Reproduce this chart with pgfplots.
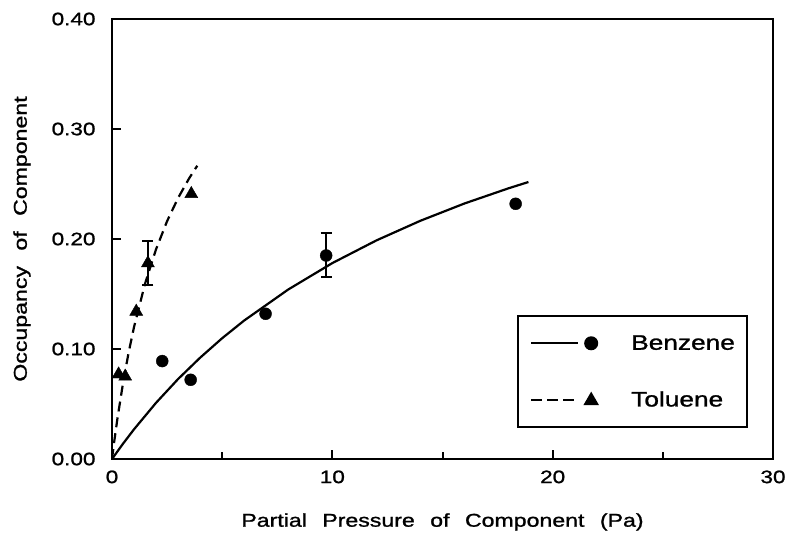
\documentclass[border=0pt]{standalone}
\usepackage{pgfplots}
\pgfplotsset{compat=1.18}
\usepackage{fontspec}
\setmainfont[FakeStretch=1.25, FakeBold=1.2, WordSpace=2.4]{Liberation Sans}

\newcommand\tickfont{\fontsize{18}{21}\selectfont}
\newcommand\labelfont{\fontsize{18.5}{21}\selectfont}
\newcommand\legfont{\fontsize{21}{24}\selectfont}

% legend glyphs: a line segment followed by the marker
\pgfplotsset{
  benzleg/.style={legend image code/.code={%
    \draw[black, line width=2pt] (0pt,0pt) -- (47pt,0pt);
    \draw[black] plot[only marks, mark=*, mark size=6pt] coordinates {(60pt,0pt)};}},
  tolleg/.style={legend image code/.code={%
    \draw[black, line width=2pt, dash pattern=on 11pt off 5pt] (0pt,0pt) -- (47pt,0pt);
    \draw[black] plot[only marks, mark=triangle*, mark size=7pt] coordinates {(60pt,-1pt)};}},
}

\begin{document}
\begin{tikzpicture}
\begin{axis}[
  name=ax,
  scale only axis,
  width=661pt, height=440pt,
  xmin=0, xmax=30, ymin=0, ymax=0.40,
  axis line style={line width=2.8pt},
  xtick={0,10,20,30},
  minor xtick={5,15,25},
  ytick={0,0.1,0.2,0.3,0.4},
  tick align=inside,
  xtick pos=bottom, ytick pos=left,
  major tick length=9pt, minor tick length=7pt,
  tick style={line width=2pt, black},
  /pgf/number format/assume math mode=true,
  yticklabel style={/pgf/number format/fixed, /pgf/number format/fixed zerofill,
    /pgf/number format/precision=2, xshift=-13pt},
  ticklabel style={font=\tickfont},
  xticklabel style={yshift=-8pt},
  xlabel={Partial Pressure of Component (Pa)},
  ylabel={Occupancy of Component},
  label style={font=\labelfont},
  xlabel style={at={(axis description cs:0.5,-0.143)}, anchor=center},
  ylabel style={at={(axis description cs:-0.1362,0.5)}, anchor=center},
  legend style={
    at={(0.962,0.0705)}, anchor=south east,
    draw=black, line width=2pt,
    inner xsep=12pt, inner ysep=19pt,
    row sep=40pt, column sep=34pt,
    font=\legfont,
    nodes={inner sep=0pt},
  },
  legend cell align=left,
]

% Langmuir-type fitted curves
\addplot[black, line width=2.2pt, forget plot] coordinates {
  (0,0) (0.5,0.0139) (1,0.0270) (2,0.0511) (3,0.0727) (4,0.0921)
  (5,0.1098) (6,0.1259) (8,0.1541) (10,0.1781) (12,0.1987)
  (14,0.2166) (16,0.2323) (18,0.2461) (18.9,0.2518)
};
\addplot[black, line width=2.2pt, dash pattern=on 10pt off 6pt, forget plot] coordinates {
  (0,0) (0.1,0.0157) (0.25,0.0372) (0.5,0.0689) (0.75,0.0963)
  (1,0.1200) (1.5,0.1594) (2,0.1907) (2.5,0.2162) (3,0.2373)
  (3.5,0.2551) (3.87,0.2666)
};

% error bars
\addplot[black, draw=none, mark=none, forget plot,
  error bars/.cd, y dir=both, y explicit,
  error bar style={line width=2pt},
  error mark options={rotate=90, mark size=5.5pt, line width=2pt}]
  coordinates {
  (9.72,0.185) +- (0,0.020)
  (1.63,0.178) +- (0,0.020)
};

% measured occupancies
\addplot[black, only marks, mark=*, mark size=6pt, forget plot] coordinates {
  (2.28,0.089) (3.57,0.072) (6.97,0.132) (9.72,0.185) (18.32,0.232)
};
\addplot[black, only marks, mark=triangle*, mark size=7.5pt, forget plot] coordinates {
  (0.30,0.077) (0.60,0.075) (1.10,0.134) (1.63,0.178) (3.60,0.241)
};

\addlegendimage{benzleg}
\addlegendentry{Benzene}
\addlegendimage{tolleg}
\addlegendentry{Toluene}
\end{axis}
\pgfresetboundingbox
\path[use as bounding box] ([xshift=-112pt,yshift=-85pt]ax.south west)
  rectangle ([xshift=21pt,yshift=19pt]ax.north east);
\end{tikzpicture}
\end{document}
